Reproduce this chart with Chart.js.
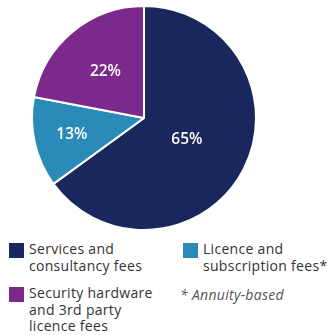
<!DOCTYPE html>
<html><head><meta charset="utf-8">
<script src="https://cdn.jsdelivr.net/npm/chart.js@4/dist/chart.umd.min.js"></script>
<style>
html,body{margin:0;padding:0;background:#fff;width:329px;height:335px;overflow:hidden;font-family:"Open Sans",sans-serif;}
#wrap{position:absolute;left:0;top:0;width:288px;height:236px;}
.leg{position:absolute;font-size:14px;letter-spacing:0.3px;line-height:16.5px;color:#333;white-space:nowrap;}
.sw{position:absolute;width:15px;height:15px;}
.note{position:absolute;font-size:14px;letter-spacing:0.3px;color:#555;font-style:italic;white-space:nowrap;}
</style></head><body>
<div id="wrap"><canvas id="c"></canvas></div>
<div id="legend"></div>
<script>
const categories = ["Services and consultancy fees", "Licence and subscription fees*", "Security hardware and 3rd party licence fees"];
const values = [65, 13, 22];
const colors = ["#1a275c", "#2a8bb8", "#7b2a8b"];
const sliceLabels = ["65%", "13%", "22%"];
const labelRadius = [0.43, 0.66, 0.54];

const labelPlugin = {
  id: 'lbl',
  afterDatasetsDraw(chart) {
    const ctx = chart.ctx;
    const meta = chart.getDatasetMeta(0);
    ctx.save();
    ctx.fillStyle = '#fff';
    ctx.font = '600 15.5px "Open Sans", sans-serif';
    ctx.textAlign = 'center';
    ctx.textBaseline = 'middle';
    meta.data.forEach((arc, i) => {
      const p = arc.getProps(['x','y','startAngle','endAngle','outerRadius']);
      const a = (p.startAngle + p.endAngle) / 2;
      const r = p.outerRadius * labelRadius[i];
      ctx.fillText(sliceLabels[i], p.x + Math.cos(a) * r, p.y + Math.sin(a) * r);
    });
    ctx.restore();
  }
};

new Chart(document.getElementById('c'), {
  type: 'pie',
  data: { labels: categories, datasets: [{ data: values, backgroundColor: colors, borderColor: '#fff', borderWidth: 2 }] },
  options: {
    responsive: true, maintainAspectRatio: false, animation: false,
    layout: { padding: { top: 5, bottom: 5, left: 0, right: 0 } },
    plugins: { legend: { display: false }, tooltip: { enabled: false } }
  },
  plugins: [labelPlugin]
});

const legendItems = [
  { i: 0, x: 9, y: 243, lines: ["Services and", "consultancy fees"] },
  { i: 1, x: 183, y: 243, lines: ["Licence and", "subscription fees*"] },
  { i: 2, x: 9, y: 287, lines: ["Security hardware", "and 3rd party", "licence fees"] }
];
const lg = document.getElementById('legend');
legendItems.forEach(it => {
  const sw = document.createElement('div');
  sw.className = 'sw';
  sw.style.left = it.x + 'px'; sw.style.top = it.y + 'px';
  sw.style.background = colors[it.i];
  lg.appendChild(sw);
  const t = document.createElement('div');
  t.className = 'leg';
  t.style.left = (it.x + 20) + 'px'; t.style.top = (it.y - 2) + 'px';
  t.innerHTML = it.lines.join('<br>');
  lg.appendChild(t);
});
const n = document.createElement('div');
n.className = 'note';
n.style.left = '180px'; n.style.top = '285px';
n.textContent = '* Annuity-based';
lg.appendChild(n);
</script>
</body></html>
